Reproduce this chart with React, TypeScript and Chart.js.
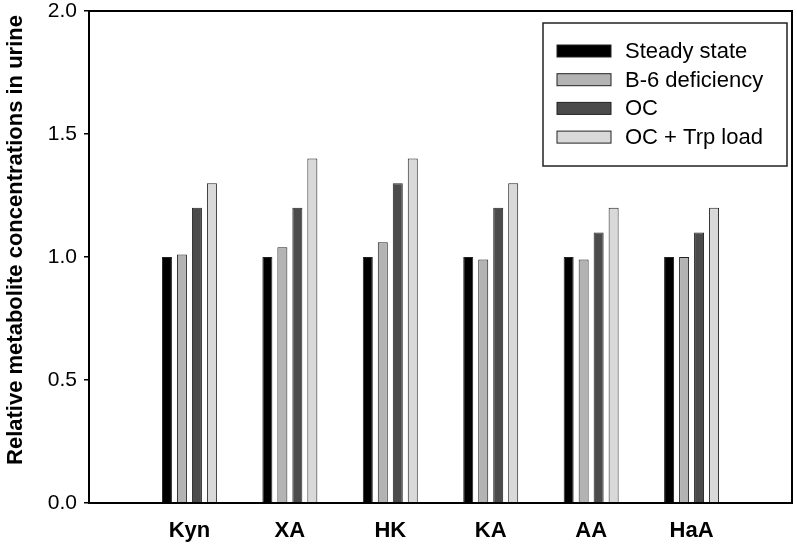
import React, { useEffect, useRef } from "react";
import { Chart, registerables } from "chart.js";

Chart.register(...registerables);

const categories = ["Kyn", "XA", "HK", "KA", "AA", "HaA"];
const seriesNames = ["Steady state", "B-6 deficiency", "OC", "OC + Trp load"];
const steadyState = [1.0, 1.0, 1.0, 1.0, 1.0, 1.0];
const b6Deficiency = [1.01, 1.04, 1.06, 0.99, 0.99, 1.0];
const oc = [1.2, 1.2, 1.3, 1.2, 1.1, 1.1];
const ocTrpLoad = [1.3, 1.4, 1.4, 1.3, 1.2, 1.2];
const yTicks = [0, 0.5, 1.0, 1.5, 2.0];
const yTitle = "Relative metabolite concentrations in urine";
const seriesColors = ["#000000", "#b3b3b3", "#4b4b4b", "#d9d9d9"];

const FONT = "'Liberation Sans', Arial, Helvetica, sans-serif";

const framePlugin = {
  id: "frame",
  afterDatasetsDraw(chart: any) {
    const { ctx, chartArea } = chart;
    ctx.save();
    ctx.strokeStyle = "#000";
    ctx.lineWidth = 2;
    ctx.strokeRect(chartArea.left, chartArea.top, chartArea.right - chartArea.left, chartArea.bottom - chartArea.top);
    ctx.restore();
  },
};

const yTitlePlugin = {
  id: "yTitle",
  afterDraw(chart: any) {
    const { ctx, chartArea } = chart;
    ctx.save();
    ctx.translate(16, (chartArea.top + chartArea.bottom) / 2 - 17);
    ctx.rotate(-Math.PI / 2);
    ctx.font = `bold 22px ${FONT}`;
    ctx.fillStyle = "#000";
    ctx.textAlign = "center";
    ctx.textBaseline = "middle";
    ctx.fillText(yTitle, 0, 0);
    ctx.restore();
  },
};

const legendPlugin = {
  id: "boxLegend",
  afterDraw(chart: any) {
    const { ctx, chartArea } = chart;
    const boxW = 244;
    const boxH = 143;
    const x0 = chartArea.right - 5 - boxW;
    const y0 = chartArea.top + 12;
    ctx.save();
    ctx.fillStyle = "#fff";
    ctx.fillRect(x0, y0, boxW, boxH);
    ctx.strokeStyle = "#222";
    ctx.lineWidth = 1.5;
    ctx.strokeRect(x0, y0, boxW, boxH);
    ctx.font = `22px ${FONT}`;
    ctx.textBaseline = "middle";
    chart.data.datasets.forEach((ds: any, i: number) => {
      const cy = y0 + 28 + i * 28.7;
      ctx.fillStyle = ds.backgroundColor;
      ctx.fillRect(x0 + 14, cy - 6, 54, 12);
      ctx.strokeStyle = "#222";
      ctx.lineWidth = 1;
      ctx.strokeRect(x0 + 14, cy - 6, 54, 12);
      ctx.fillStyle = "#000";
      ctx.fillText(ds.label, x0 + 82, cy + 1);
    });
    ctx.restore();
  },
};

export default function App() {
  const ref = useRef<HTMLCanvasElement | null>(null);

  useEffect(() => {
    if (!ref.current) return;
    const labels = ["", ...categories, ""];
    const pad = (arr: number[]) => [null, ...arr, null];
    const allSeries = [steadyState, b6Deficiency, oc, ocTrpLoad];
    const chart = new Chart(ref.current, {
      type: "bar",
      data: {
        labels,
        datasets: allSeries.map((s, i) => ({
          label: seriesNames[i],
          data: pad(s),
          backgroundColor: seriesColors[i],
          borderColor: "#222",
          borderWidth: 1,
          categoryPercentage: 0.597,
          barPercentage: 0.667,
        })),
      },
      options: {
        responsive: false,
        animation: false,
        events: [],
        layout: { padding: { top: 11, right: 5, left: 0, bottom: 0 } },
        plugins: {
          legend: { display: false },
          tooltip: { enabled: false },
          title: { display: false },
        },
        scales: {
          x: {
            type: "category",
            offset: false,
            grid: { display: false },
            border: { display: false },
            ticks: {
              color: "#000",
              padding: 7,
              autoSkip: false,
              maxRotation: 0,
              font: { family: FONT, size: 22, weight: "bold" },
            },
            afterFit(scale: any) {
              scale.height = 42;
              scale.paddingLeft = 0;
              scale.paddingRight = 0;
            },
          },
          y: {
            min: 0,
            max: 2,
            afterBuildTicks(scale: any) {
              scale.ticks = yTicks.map((v) => ({ value: v }));
            },
            grid: {
              drawOnChartArea: false,
              drawTicks: true,
              tickLength: 5,
              color: "#000",
              lineWidth: 1.5,
            },
            border: { display: false },
            ticks: {
              color: "#000",
              padding: 7,
              font: { family: FONT, size: 21 },
              callback: (v: any) => Number(v).toFixed(1),
            },
            title: { display: false },
            afterFit(scale: any) {
              scale.width = 89;
              scale.paddingTop = 0;
              scale.paddingBottom = 0;
            },
          },
        },
      },
      plugins: [framePlugin, legendPlugin, yTitlePlugin],
    });
    return () => chart.destroy();
  }, []);

  return (
    <div style={{ position: "absolute", left: 0, top: 0, width: 797, height: 545, background: "#fff" }}>
      <canvas ref={ref} width={797} height={545} />
    </div>
  );
}
